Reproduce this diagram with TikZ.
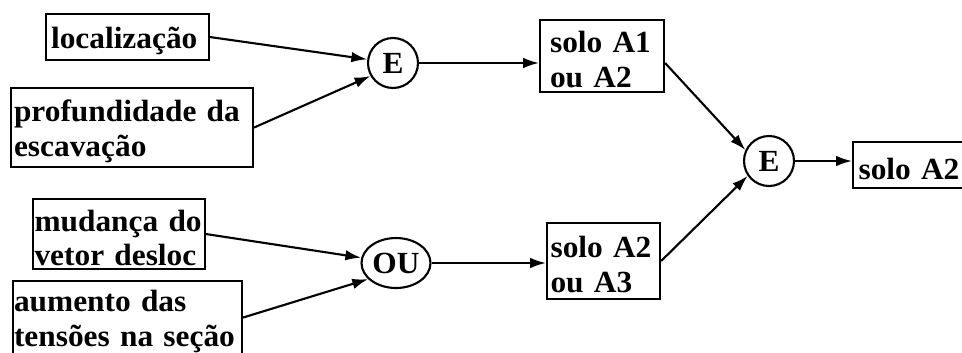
\documentclass[tikz,border=0pt]{standalone}
\usepackage{fontspec}
\setmainfont{Liberation Serif}[FakeStretch=1.02]
\usetikzlibrary{arrows.meta,shapes.geometric}

\begin{document}
\begin{tikzpicture}[x=0.02cm,y=-0.02cm,
    caixa/.style={draw,line width=1.2pt,anchor=north west,align=left,inner xsep=0pt,inner ysep=0pt,
        font=\fontsize{17.5}{19.8}\selectfont\bfseries,
        execute at begin node={\rule{0pt}{16.5pt}}},
    porta/.style={draw,line width=1.2pt,circle,minimum size=1cm,inner sep=0pt,
        font=\fontsize{17.5}{19}\selectfont\bfseries},
    seta/.style={-{Latex[length=9pt,width=6pt]},line width=1.2pt}]

    \useasboundingbox (0,0) rectangle (962,352);

    % Input boxes (upper branch)
    \node[caixa,minimum width=3.26cm,minimum height=0.92cm,text width=3.06cm] (loc) at (45,13) {localização};
    \node[caixa,minimum width=4.84cm,minimum height=1.58cm,text width=4.72cm] (prof) at (10,87) {profundidade da\\escavação};

    % Input boxes (lower branch)
    \node[caixa,minimum width=3.44cm,minimum height=1.40cm,text width=3.38cm] (mud) at (32,198) {mudança do\\vetor desloc};
    \node[caixa,minimum width=4.58cm,minimum height=1.46cm,text width=4.54cm] (aum) at (12,280) {aumento das\\tensões na seção};

    % Gates
    \node[porta] (E1) at (393,63) {E};
    \node[porta,ellipse,minimum width=1.38cm,minimum height=1.0cm] (OU) at (396,263) {OU};
    \node[porta] (E2) at (769,161) {E};

    % Intermediate and final results
    \node[caixa,minimum width=2.48cm,minimum height=1.44cm,text width=2.08cm] (s1) at (539,19) {solo A1\\ou A2};
    \node[caixa,minimum width=2.26cm,minimum height=1.52cm,text width=2.12cm] (s23) at (546,222) {solo A2\\ou A3};
    \node[caixa,minimum width=2.32cm,minimum height=0.92cm,text width=2.10cm] (fin) at (852,141) {solo A2};

    % Arrows into the gates
    \draw[seta] (loc.east) -- (E1);
    \draw[seta] (prof.east) -- (E1.210);
    \draw[seta] (mud.east) -- (OU);
    \draw[seta] (aum.east) -- (OU.210);

    % Arrows out of the gates
    \draw[seta] (E1) -- (E1 -| s1.west);
    \draw[seta] (OU) -- (OU -| s23.west);
    \draw[seta] (s1.east |- E1) -- (E2.155);
    \draw[seta] (s23.east) -- (E2.215);
    \draw[seta] (E2) -- (E2 -| fin.west);

\end{tikzpicture}
\end{document}
